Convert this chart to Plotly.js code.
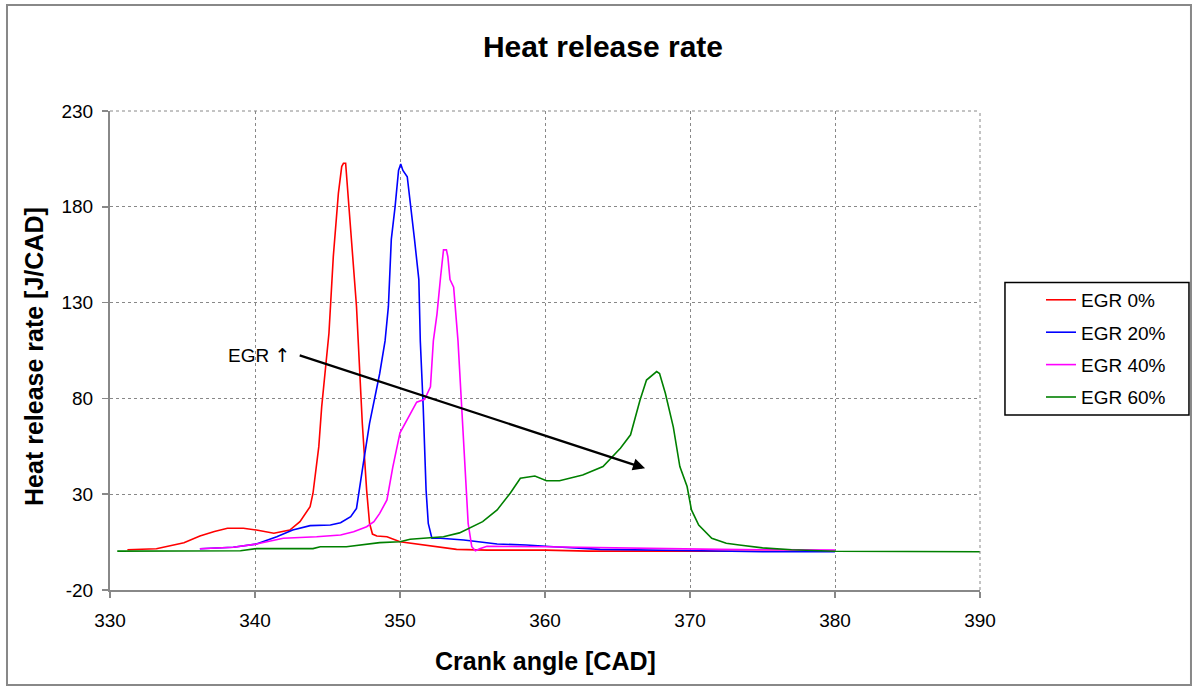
<!DOCTYPE html>
<html>
<head>
<meta charset="utf-8">
<script src="https://cdn.plot.ly/plotly-3.0.1.min.js"></script>
<style>body{margin:0;padding:0;background:#fff;} #chart{width:1194px;height:689px;}</style>
</head>
<body>
<div id="chart"></div>
<script>
const seriesNames = ['EGR 0%', 'EGR 20%', 'EGR 40%', 'EGR 60%'];
const seriesColors = ['#ff0000', '#0000ff', '#ff00ff', '#008000'];

const egr0X = [331.2, 333.2, 335.1, 336.2, 337.2, 338.1, 339.2, 340.1, 341.3, 342.4, 343.1, 343.8, 344.0, 344.4, 344.6, 345.1, 345.4, 345.75, 345.98, 346.1, 346.25, 346.4, 346.7, 347.0, 347.4, 347.7, 347.9, 348.1, 348.4, 349.1, 350.0, 352.1, 353.9, 356, 360, 363, 366, 370, 375, 380];
const egr0Y = [1.0, 1.5, 4.7, 8.2, 10.5, 12.2, 12.2, 11.3, 9.6, 11.3, 15.7, 23.5, 30.5, 54.8, 75.7, 114, 154, 187, 201, 202.7, 202.7, 187, 159, 128, 67, 32, 14.8, 9.2, 8.2, 7.8, 5.2, 3.0, 1.2, 0.8, 0.8, 0.3, 0.3, 0.3, 0.2, 0.2];

const egr20X = [336.2, 338.5, 340.1, 341.5, 342.6, 343.8, 345.2, 345.9, 346.6, 347.0, 347.45, 347.9, 348.6, 348.97, 349.2, 349.4, 349.66, 349.9, 350.05, 350.2, 350.5, 350.7, 351.0, 351.3, 351.4, 351.6, 351.7, 351.8, 351.95, 352.2, 352.8, 354.4, 356.7, 358.7, 360.6, 363.8, 370.7, 375, 380];
const egr20Y = [1.5, 2.3, 4.0, 7.8, 11.3, 13.6, 13.9, 15.1, 18.3, 22.6, 45, 67, 93, 110, 128, 163, 180, 199, 202.3, 199, 195.7, 183.6, 163, 142, 110, 75.7, 49.6, 32, 14.8, 7, 7, 6.1, 4, 3.5, 2.6, 1.2, 0.5, 0, 0];

const egr40X = [336.2, 338.5, 340.1, 341.95, 344.25, 345.9, 346.8, 347.7, 348.2, 348.6, 349.1, 349.5, 350.0, 350.7, 351.15, 351.7, 352.1, 352.3, 352.55, 352.8, 353.0, 353.2, 353.3, 353.45, 353.7, 354.0, 354.25, 354.5, 354.7, 354.95, 355.2, 355.5, 356.0, 360, 366.6, 372, 380];
const egr40Y = [1.5, 2.3, 4.0, 7.0, 7.8, 8.7, 10.4, 13, 15.7, 20, 27, 44, 62, 72, 78, 79.5, 86, 110, 124, 143.5, 157.5, 157.5, 154, 142, 138, 110, 75.7, 41, 14.8, 2.6, 0.5, 1.5, 2.8, 2.6, 1.8, 1.2, 0.8];

const egr60X = [330.5, 339, 340.1, 344.0, 344.5, 346.3, 348.6, 350.0, 350.7, 353.0, 354.1, 355.7, 356.7, 357.6, 358.3, 359.0, 359.3, 360.1, 361.0, 362.6, 364.0, 365.2, 365.9, 366.55, 367.0, 367.7, 367.9, 368.3, 368.85, 369.3, 369.8, 370.1, 370.6, 371.5, 372.5, 373.4, 375, 377, 380, 390];
const egr60Y = [0.3, 0.5, 1.6, 1.6, 2.6, 2.6, 4.7, 5.2, 6.5, 7.8, 9.8, 15.7, 21.8, 30.5, 38.3, 39, 39.5, 37, 37, 40, 44.4, 54, 61, 79, 89.6, 94, 93, 82.7, 65, 44.4, 34, 21.8, 13.9, 7, 4.4, 3.5, 2, 1, 0.2, 0];

const xTicks = [330, 340, 350, 360, 370, 380, 390];
const yTicks = [-20, 30, 80, 130, 180, 230];

const xs = [egr0X, egr20X, egr40X, egr60X];
const ys = [egr0Y, egr20Y, egr40Y, egr60Y];

const traces = seriesNames.map((n, i) => ({
  x: xs[i], y: ys[i], name: n, type: 'scatter', mode: 'lines',
  legendgroup: 'g' + i,
  line: {color: seriesColors[i], width: 1.6}
}));

const font = {family: 'Liberation Sans, Arial, sans-serif', color: '#000'};
const f = s => Object.assign({size: s}, font);

const layout = {
  width: 1194, height: 689,
  margin: {l: 110, r: 214, t: 111, b: 99},
  paper_bgcolor: '#fff', plot_bgcolor: '#fff',
  font: f(19),
  showlegend: true,
  title: {text: '<b>Heat release rate</b>', x: 0.505, xanchor: 'center', y: 0.933, yanchor: 'middle', font: f(30)},
  xaxis: {
    range: [330, 390], tickvals: xTicks, ticktext: xTicks.map(String),
    showline: true, linecolor: '#888', linewidth: 2,
    ticks: 'outside', ticklen: 6, tickcolor: '#888', tickwidth: 1.5,
    ticklabelstandoff: 6,
    showgrid: true, gridcolor: '#888', griddash: 'dot', gridwidth: 1,
    zeroline: false, tickfont: f(19)
  },
  yaxis: {
    range: [-20, 230], tickvals: yTicks, ticktext: yTicks.map(String),
    showline: true, linecolor: '#888', linewidth: 2,
    ticks: 'outside', ticklen: 6, tickcolor: '#888', tickwidth: 1.5,
    ticklabelstandoff: 5,
    showgrid: true, gridcolor: '#888', griddash: 'dot', gridwidth: 1,
    zeroline: false, tickfont: f(19)
  },
  legend: {
    x: 1.0701, xanchor: 'left', y: 0.6452, yanchor: 'top',
    borderwidth: 0, bgcolor: 'rgba(0,0,0,0)',
    font: f(19), tracegroupgap: 4.7, traceorder: 'grouped'
  },
  shapes: [
    {type: 'rect', xref: 'paper', yref: 'paper', x0: -0.1184, x1: 1.2425, y0: -0.1983, y1: 1.2213,
     line: {color: '#888', width: 2}, layer: 'below'},
    {type: 'rect', xref: 'paper', yref: 'paper', x0: 1.0287, x1: 1.2402, y0: 0.3653, y1: 0.642,
     line: {color: '#000', width: 1.5}, fillcolor: '#fff', layer: 'below'},
    {type: 'line', xref: 'paper', yref: 'paper', x0: 0, x1: 1, y0: 1, y1: 1,
     line: {color: '#888', width: 1, dash: 'dot'}},
    {type: 'line', xref: 'paper', yref: 'paper', x0: 1, x1: 1, y0: 0, y1: 1,
     line: {color: '#888', width: 1, dash: 'dot'}}
  ],
  annotations: [
    {x: 366.9, y: 43.5, ax: 342.98, ay: 102.7, xref: 'x', yref: 'y', axref: 'x', ayref: 'y',
     text: '', showarrow: true, arrowhead: 2, arrowsize: 1.1, arrowwidth: 2.2, arrowcolor: '#000'},
    {x: 340.28, y: 102.7, xref: 'x', yref: 'y', text: 'EGR <span style="font-family:DejaVu Sans">↑</span>', showarrow: false, font: f(19)},
    {x: 0.5, y: -0.1482, xref: 'paper', yref: 'paper', xanchor: 'center', yanchor: 'middle',
     text: '<b>Crank angle [CAD]</b>', showarrow: false, font: f(25)},
    {x: -0.0874, y: 0.4885, xref: 'paper', yref: 'paper', xanchor: 'center', yanchor: 'middle',
     text: '<b>Heat release rate [J/CAD]</b>', textangle: -90, showarrow: false, font: f(25)}
  ]
};

Plotly.newPlot('chart', traces, layout, {staticPlot: true});
</script>
</body>
</html>
